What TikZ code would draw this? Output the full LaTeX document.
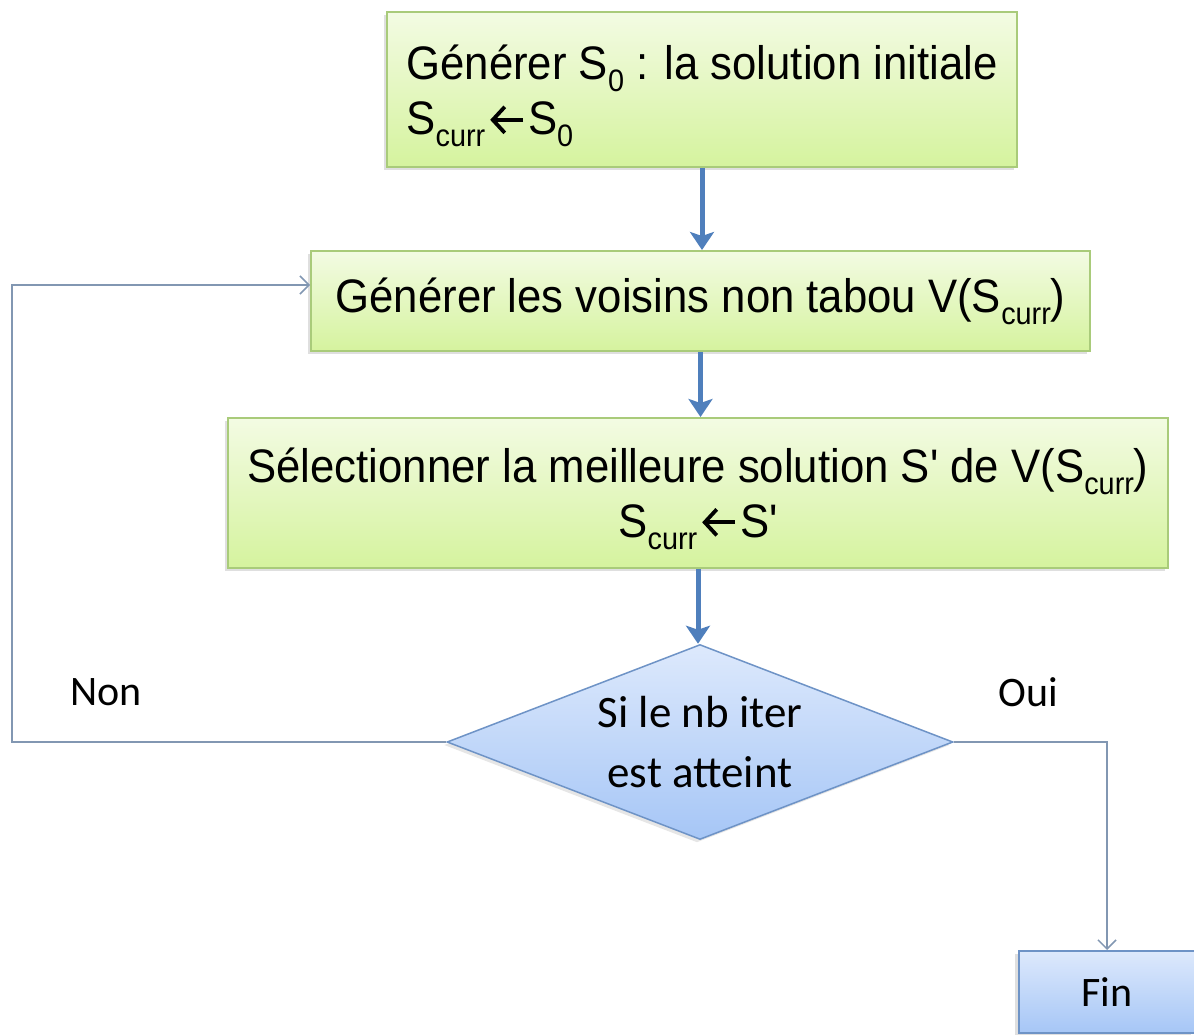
\documentclass[tikz,border=0pt]{standalone}
\usepackage{fontspec}
\setmainfont{Liberation Sans}[FakeStretch=0.93,Ligatures=TeXOff]
\newfontfamily\calib{Carlito}
\usetikzlibrary{arrows.meta,shapes.geometric,shadows}
\definecolor{gtop}{HTML}{F3FBE3}
\definecolor{gbot}{HTML}{D5F39E}
\definecolor{gline}{HTML}{A9CB7A}
\definecolor{btop}{HTML}{DDE9FC}
\definecolor{bbot}{HTML}{A6C6F6}
\definecolor{bline}{HTML}{6E93C6}
\definecolor{flow}{HTML}{4F7FBC}
\definecolor{loopc}{HTML}{8297B2}
% small lowered index used in S_0 and S_curr
\newcommand\sbx[1]{\raisebox{-12pt}{\fontsize{31}{31}\selectfont #1}}
% assignment arrow
\newcommand\asg{\hspace{3pt}\tikz[x=1pt,y=1pt,baseline=0pt]
  \draw[line width=3.8pt,-{Straight Barb[length=12pt,width=26pt,line width=3.8pt]}] (34,15) -- (1,15);\hspace{3pt}}
\newcommand\prm{'}
\begin{document}
\begin{tikzpicture}[x=1pt,y=-1pt,
  procbox/.style={rectangle, draw=gline, line width=2pt, top color=gtop, bottom color=gbot,
    drop shadow={shadow xshift=-3pt,shadow yshift=-3pt,opacity=0.25},
    inner sep=0pt, font=\fontsize{47}{55}\selectfont},
  testbox/.style={diamond, draw=bline, line width=1.5pt, top color=btop, bottom color=bbot,
    drop shadow={shadow xshift=-3pt,shadow yshift=-3pt,opacity=0.2},
    inner sep=0pt, aspect=2.6, minimum width=506, minimum height=195,
    align=center, font=\calib\fontsize{45}{60}\selectfont},
  endbox/.style={rectangle, draw=bline, line width=2pt, top color=btop, bottom color=bbot,
    drop shadow={shadow xshift=-4pt,shadow yshift=-3pt,opacity=0.25},
    inner sep=0pt, font=\calib\fontsize{42}{50}\selectfont},
  lbl/.style={font=\calib\fontsize{42}{50}\selectfont, inner sep=0pt},
  flowarrow/.style={draw=flow, line width=5pt, -{Stealth[length=18pt,width=24pt,inset=4pt]}},
  looparrow/.style={draw=loopc, line width=2.5pt, -{Straight Barb[length=9pt,width=18pt,line width=1.5pt]}}
]
\useasboundingbox (0,0) rectangle (1194,1035);
\clip (0,0) rectangle (1194,1035);

% processing steps
\node[procbox, minimum width=630, minimum height=155, align=left, text height=103pt] (b1) at (702,89.5)
  {Générer S\sbx{0} : la solution initiale\\S\sbx{curr}\asg S\sbx{0}};
\node[procbox, minimum width=779, minimum height=100] (b2) at (700.5,301)
  {Générer les voisins non tabou V(S\sbx{curr})};
\node[procbox, minimum width=940, minimum height=150, align=center, text height=101pt] (b3) at (698,493)
  {Sélectionner la meilleure solution S\prm{} de V(S\sbx{curr})\\S\sbx{curr}\asg S\prm};

% stopping test and end
\node[testbox] (dia) at (700,742) {Si le nb iter\\est atteint};
\node[endbox, minimum width=176, minimum height=82] (fin) at (1107,992) {Fin};

% branch labels
\node[lbl] (non) at (106,692) {Non};
\node[lbl] (oui) at (1028,692) {Oui};

% main flow
\draw[flowarrow] (b1.south) -- (b1.south |- b2.north);
\draw[flowarrow] (b2.south) -- (b2.south |- b3.north);
\draw[flowarrow] (b3.south) -- (b3.south |- dia.north);

% loop back and exit
\coordinate (lp) at (12,285);
\draw[looparrow] (dia.west) -| (lp) -- (b2.west |- lp);
\draw[looparrow] (dia.east) -| (fin.north);
\end{tikzpicture}
\end{document}
